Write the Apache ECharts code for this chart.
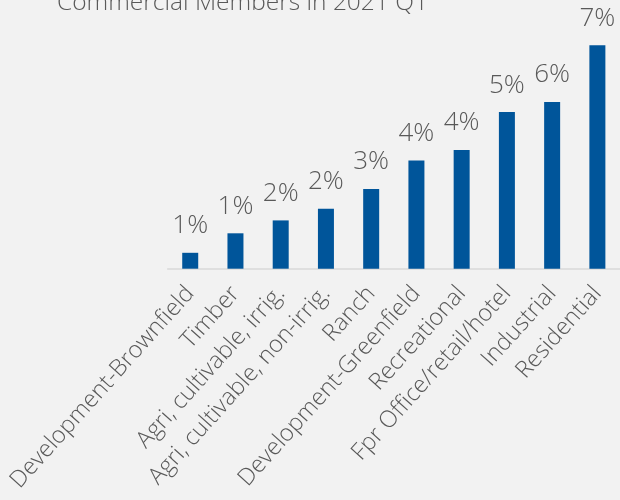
<!DOCTYPE html>
<html>
<head>
<meta charset="utf-8">
<script src="https://cdn.jsdelivr.net/npm/echarts@6/dist/echarts.min.js"></script>
<style>
html,body{margin:0;padding:0;background:#f2f2f2;}
#c{width:620px;height:500px;}
</style>
</head>
<body>
<div id="c"></div>
<script>
const titleText = 'Commercial Members in 2021 Q1';
const categories = ['Development-Brownfield','Timber','Agri, cultivable, irrig.','Agri, cultivable, non-irrig.','Ranch','Development-Greenfield','Recreational','Fpr Office/retail/hotel','Industrial','Residential'];
const values = [0.53, 1.18, 1.61, 2.0, 2.66, 3.61, 3.96, 5.22, 5.56, 7.45];

const FONT = '"Open Sans", sans-serif';
const chart = echarts.init(document.getElementById('c'));
chart.setOption({
  backgroundColor: '#f2f2f2',
  animation: false,
  title: {
    text: titleText,
    left: 52,
    top: -14,
    textStyle: {color: '#595959', fontSize: 24.5, fontWeight: 300, fontFamily: FONT}
  },
  grid: {left: 167.6, right: -1.7, top: 28.7, bottom: 231.3, containLabel: false},
  xAxis: {
    type: 'category',
    data: categories,
    axisLine: {lineStyle: {color: '#d9d9d9', width: 1.5}},
    axisTick: {show: false},
    axisLabel: {rotate: 48, interval: 0, margin: 21, color: '#595959', fontSize: 23.5, fontWeight: 300, fontFamily: FONT}
  },
  yAxis: {type: 'value', min: 0, max: 8, show: false, splitLine: {show: false}},
  series: [{
    type: 'bar',
    data: values,
    barWidth: 16,
    itemStyle: {color: '#00559a'},
    label: {
      show: true, position: 'top', distance: 14,
      color: '#595959', fontSize: 26, fontWeight: 300, fontFamily: FONT,
      formatter: p => Math.round(p.value) + '%'
    }
  }]
});
</script>
</body>
</html>
